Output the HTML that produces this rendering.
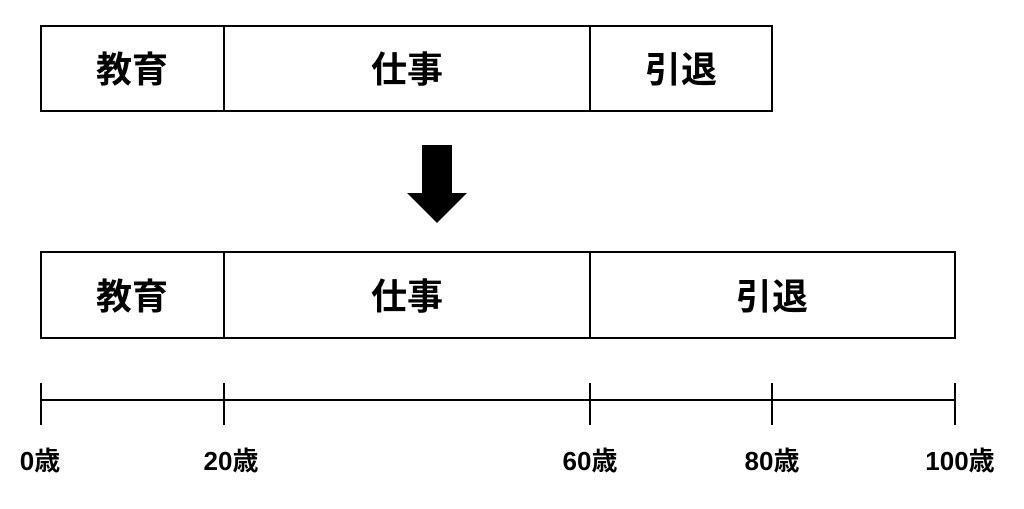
<!DOCTYPE html>
<html><head><meta charset="utf-8"><style>
body{margin:0;background:#fff;}
svg text{font-family:"Liberation Sans","Noto Sans CJK JP",sans-serif;font-weight:bold;fill:#000;}
</style></head><body>
<svg width="1024" height="504" xmlns="http://www.w3.org/2000/svg">
<g fill="none" stroke="#000" stroke-width="2">
<rect x="41" y="26" width="731" height="85"/>
<line x1="224" y1="26" x2="224" y2="111"/>
<line x1="590" y1="26" x2="590" y2="111"/>
<rect x="41" y="252" width="914" height="86"/>
<line x1="224" y1="252" x2="224" y2="338"/>
<line x1="590" y1="252" x2="590" y2="338"/>
<line x1="41" y1="400" x2="955" y2="400"/>
<line x1="41" y1="383" x2="41" y2="425"/>
<line x1="224" y1="383" x2="224" y2="425"/>
<line x1="590" y1="383" x2="590" y2="425"/>
<line x1="772" y1="383" x2="772" y2="425"/>
<line x1="955" y1="383" x2="955" y2="425"/>
</g>
<polygon points="422,145 452,145 452,193 467,193 437,223 407,193 422,193" fill="#000"/>
<g font-size="36" text-anchor="middle" style="font-weight:normal">
<text x="132" y="82">教育</text>
<text x="407" y="82">仕事</text>
<text x="681" y="82">引退</text>
<text x="132" y="309">教育</text>
<text x="407" y="309">仕事</text>
<text x="772" y="309">引退</text>
</g>
<g font-size="26" text-anchor="middle">
<text x="40" y="470">0歳</text>
<text x="231" y="470">20歳</text>
<text x="590" y="470">60歳</text>
<text x="772" y="470">80歳</text>
<text x="960" y="470">100歳</text>
</g>
</svg>
</body></html>
